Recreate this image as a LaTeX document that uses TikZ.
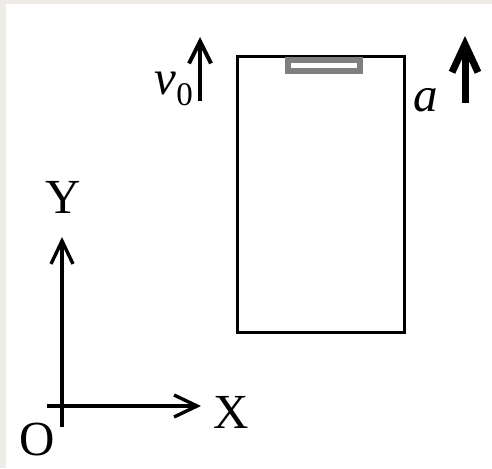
\documentclass[tikz,border=0pt]{standalone}
\usepackage{fontspec}
\setmainfont{Liberation Serif}
\usetikzlibrary{arrows.meta}
\definecolor{framegray}{HTML}{EFECE8}
\definecolor{clipgray}{HTML}{7F7F7F}
\tikzset{
  lbl/.style={inner sep=0pt, font=\fontsize{49}{52}\selectfont},
  axisarrow/.style={line width=3.4pt, -{Straight Barb[sharp,length=23pt,width=22pt]}},
  vzeroarrow/.style={line width=4pt, -{Straight Barb[sharp,length=22pt,width=22pt]}},
  accarrow/.style={line width=7pt, -{Straight Barb[sharp,length=28pt,width=26pt]}},
  boxbody/.style={draw, line width=3pt, minimum width=167pt, minimum height=275pt, inner sep=0pt},
}
\begin{document}
\begin{tikzpicture}[x=1pt,y=-1pt]
\useasboundingbox (0,0) rectangle (492,468);
\fill[white] (0,0) rectangle (492,468);
\fill[framegray] (0,0) rectangle (6,468);
\fill[framegray] (0,0) rectangle (492,4);
% box (elevator)
\node[boxbody] (box) at (320.5,194.5) {};
\draw[clipgray, line width=6pt] (288,60) rectangle (360,71);
% velocity arrow and label
\coordinate (vbot) at (200,101);
\coordinate (vtop) at (200,37);
\draw[vzeroarrow] (vbot) -- (vtop);
\node[lbl, anchor=base east] (v0) at (193,95) {\textit{v}\raisebox{-0.22em}{\fontsize{33}{33}\selectfont 0}};
% acceleration arrow and label
\coordinate (abot) at (465,103);
\coordinate (atop) at (465,36);
\draw[accarrow] (abot) -- (atop);
\node[lbl, anchor=base] (alab) at (426,112) {\textit{a}};
% axes
\coordinate (ybot) at (62,427);
\coordinate (ytip) at (62,237);
\coordinate (xleft) at (47,406);
\coordinate (xtip) at (201,406);
\draw[axisarrow] (ybot) -- (ytip);
\draw[axisarrow] (xleft) -- (xtip);
\node[lbl, anchor=base] (Ylab) at (63,213) {Y};
\node[lbl, anchor=base] (Xlab) at (231,428) {X};
\node[lbl, anchor=base] (Olab) at (37,455) {O};
\end{tikzpicture}
\end{document}
